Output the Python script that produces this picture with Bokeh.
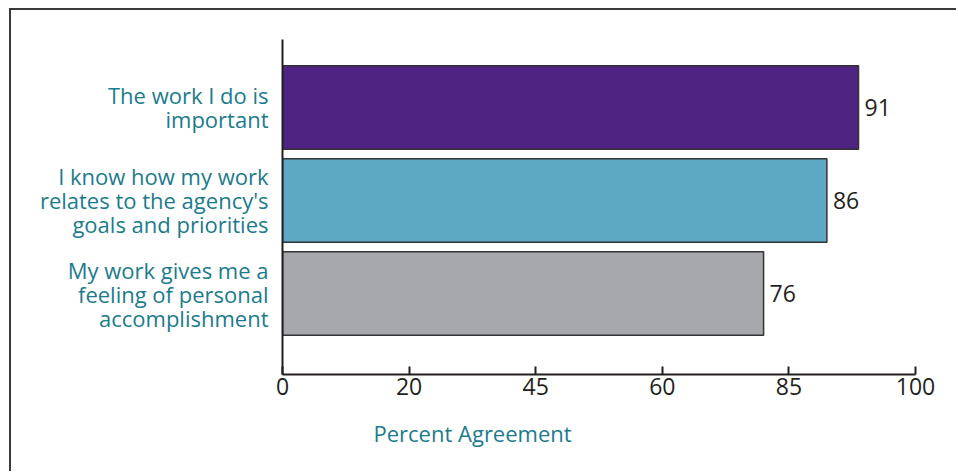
from bokeh.plotting import figure
from bokeh.models import Range1d, FixedTicker, ColumnDataSource, LabelSet, Title
from bokeh.core.properties import value
from bokeh.embed import file_html
from bokeh.resources import INLINE

categories = [
    "The work I do is\nimportant",
    "I know how my work\nrelates to the agency's\ngoals and priorities",
    "My work gives me a\nfeeling of personal\naccomplishment",
]
values = [91, 86, 76]
colors = ["#4F2382", "#5DA9C3", "#A7A8AC"]
tick_positions = [0, 20, 40, 60, 80, 100]
tick_labels = ["0", "20", "45", "60", "85", "100"]
axis_title = "Percent Agreement"

FONT = "Open Sans"
TEAL = "#1B7B8D"
DARK = "#231F20"

n = len(categories)
ypos = [n - 0.5 - i for i in range(n)]  # top bar first

src = ColumnDataSource(dict(
    y=ypos, v=values, c=colors, lab=[str(v) for v in values],
))

p = figure(width=947, height=463, output_backend="svg", toolbar_location=None,
           x_range=Range1d(0, 100), y_range=Range1d(-0.37, 3.23),
           min_border_left=271, min_border_right=43, min_border_top=29,
           min_border_bottom=99, outline_line_color=None,
           background_fill_color="white", border_fill_color="white")
p.styles = {"margin-top": "8px", "margin-left": "9px",
            "border-top": "2px solid #3A3A3A", "border-left": "2px solid #3A3A3A"}

p.hbar(y="y", right="v", left=0, height=0.897, fill_color="c",
       line_color="#333333", line_width=1.5, source=src)

labels = LabelSet(x="v", y="y", text="lab", source=src, x_offset=6,
                  text_baseline="middle", text_align="left",
                  text_font=value(FONT), text_font_size="23px", text_color=DARK)
p.add_layout(labels)

p.xgrid.visible = False
p.ygrid.visible = False

xa = p.xaxis[0]
xa.ticker = FixedTicker(ticks=tick_positions)
xa.major_label_overrides = {t: l for t, l in zip(tick_positions, tick_labels)}
xa.major_tick_in = 8
xa.major_tick_out = 0
xa.minor_tick_line_color = None
xa.axis_line_width = 2
xa.axis_line_color = DARK
xa.major_tick_line_width = 2
xa.major_tick_line_color = DARK
xa.major_label_text_font = FONT
xa.major_label_text_font_size = "23px"
xa.major_label_text_color = DARK
xa.major_label_standoff = 3

ya = p.yaxis[0]
ya.ticker = FixedTicker(ticks=ypos)
ya.major_label_overrides = {y: c for y, c in zip(ypos, categories)}
ya.major_tick_line_color = None
ya.minor_tick_line_color = None
ya.axis_line_width = 2
ya.axis_line_color = DARK
ya.major_label_text_font = FONT
ya.major_label_text_font_size = "22px"
ya.major_label_text_color = TEAL
ya.major_label_standoff = 8
ya.major_label_text_align = "right"
ya.major_label_text_line_height = 0.8

t = Title(text=axis_title, align="left", offset=91, text_font=FONT,
          text_font_size="22px", text_color=TEAL, text_font_style="normal",
          standoff=36)
p.add_layout(t, "below")

open("out.html", "w").write(file_html(p, INLINE))
